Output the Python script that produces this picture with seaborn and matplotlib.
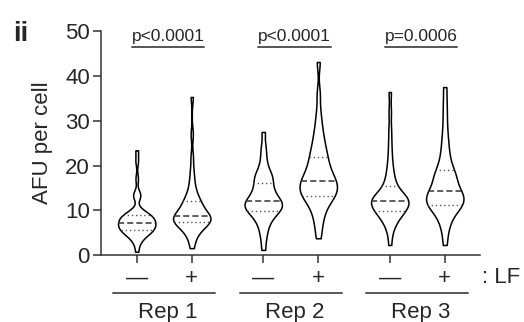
import seaborn as sns
import pandas as pd
import matplotlib.pyplot as plt
import numpy as np

# categories and labels
reps = ["Rep 1", "Rep 2", "Rep 3"]
lf_labels = ["—", "+"]
p_values = ["p<0.0001", "p<0.0001", "p=0.0006"]

rep1_minus = [0.8, 2.6, 3.4, 4.0, 4.4, 4.7, 5.0, 5.2, 5.4, 5.5,
              5.6, 5.8, 6.0, 6.2, 6.4, 6.6, 6.8, 6.9, 7.1, 7.2,
              7.3, 7.5, 7.7, 7.9, 8.1, 8.3, 8.5, 8.7, 8.8, 8.9,
              9.1, 9.4, 9.7, 10.1, 13.1, 13.4, 13.7, 17.1, 21.0, 23.4]
rep1_plus = [1.6, 3.2, 4.3, 5.0, 5.6, 6.0, 6.4, 6.7, 7.0, 7.2,
             7.4, 7.6, 7.8, 7.9, 8.0, 8.1, 8.2, 8.4, 8.6, 8.8,
             8.9, 9.1, 9.4, 9.7, 10.1, 10.5, 10.9, 11.3, 11.7, 11.9,
             12.3, 12.9, 13.6, 14.5, 15.6, 17.2, 19.0, 22.0, 27.0, 35.3]
rep2_minus = [1.2, 3.5, 5.0, 6.2, 7.1, 7.8, 8.4, 8.9, 9.3, 9.6,
              9.9, 10.2, 10.5, 10.7, 10.9, 11.1, 11.3, 11.6, 11.9, 12.1,
              12.3, 12.6, 12.9, 13.3, 13.7, 14.1, 14.6, 15.1, 15.7, 16.1,
              16.6, 17.2, 17.8, 18.2, 18.6, 19.8, 21.0, 22.7, 24.5, 27.5]
rep2_plus = [3.8, 6.0, 7.8, 9.0, 10.1, 11.0, 11.8, 12.4, 12.9, 13.1,
             13.4, 13.8, 14.2, 14.5, 14.8, 15.1, 15.5, 15.9, 16.3, 16.5,
             16.7, 17.1, 17.6, 18.1, 18.6, 19.2, 19.8, 20.4, 21.1, 21.8,
             22.5, 23.3, 24.2, 25.2, 26.4, 27.8, 29.5, 32.0, 36.0, 43.1]
rep3_minus = [2.3, 5.0, 6.4, 7.2, 7.9, 8.5, 9.0, 9.3, 9.6, 9.8,
              10.0, 10.3, 10.6, 10.9, 11.2, 11.5, 11.7, 11.9, 12.0, 12.1,
              12.3, 12.5, 12.7, 12.9, 13.1, 13.3, 13.6, 14.0, 14.6, 15.3,
              16.0, 16.8, 17.8, 19.0, 20.5, 22.5, 25.0, 28.0, 32.0, 36.4]
rep3_plus = [2.3, 5.0, 6.6, 7.8, 8.7, 9.4, 10.0, 10.5, 10.9, 11.1,
             11.4, 11.7, 12.0, 12.2, 12.4, 12.7, 13.0, 13.4, 13.8, 14.2,
             14.4, 14.6, 14.9, 15.4, 16.7, 17.1, 17.4, 17.6, 17.9, 18.9,
             19.5, 20.4, 21.5, 22.8, 24.3, 26.0, 28.2, 31.0, 34.0, 37.5]

series = [[rep1_minus, rep1_plus], [rep2_minus, rep2_plus], [rep3_minus, rep3_plus]]

# layout: each rep is a pair, pairs separated by a wider gap
GROUP_STEP = 2.3
rows = []
for g, pair in enumerate(series):
    for j, vals in enumerate(pair):
        for v in vals:
            rows.append({"rep": reps[g], "lf": lf_labels[j], "pos": g * GROUP_STEP + j, "afu": v})
df = pd.DataFrame(rows)
positions = sorted(df["pos"].unique())

sns.set_style("ticks")
plt.rcParams["font.family"] = ["Liberation Sans", "DejaVu Sans"]

fig = plt.figure(figsize=(5.24, 3.22), dpi=100)
ax = fig.add_axes([0.1927, 0.2071, 0.7233, 0.6966])

sns.violinplot(data=df, x="pos", y="afu", native_scale=True, cut=0, inner="quart",
               density_norm="width", width=0.68, bw_adjust=0.5,
               color="white", linecolor="black", linewidth=1.1, ax=ax)

# GraphPad style: dashed median, fine grey dotted quartiles
for i, line in enumerate(ax.lines):
    if i % 3 == 1:
        line.set_color("#333333")
        line.set_linewidth(1.1)
        line.set_dashes((4, 2))
    else:
        line.set_color("#555555")
        line.set_linewidth(1.0)
        line.set_dashes((1, 2))

ax.set_xlim(-0.65, 6.24)
ax.set_ylim(0, 50)
ax.set_yticks([0, 10, 20, 30, 40, 50])
ax.tick_params(axis="y", labelsize=16, length=6, width=1.1, pad=2, color="#333333")
ax.set_xticks(positions)
ax.set_xticklabels(lf_labels * 3, fontsize=16)
ax.tick_params(axis="x", length=6, width=1.1, pad=3, color="#333333")
ax.set_xlabel("")
ax.set_ylabel("AFU per cell", fontsize=16)
ax.yaxis.set_label_coords(-0.127, 0.5)
for s in ["left", "bottom"]:
    ax.spines[s].set_linewidth(1.1)
    ax.spines[s].set_color("#333333")
sns.despine(ax=ax)

# rep group lines and labels under the axis
trans = ax.get_xaxis_transform()
for g, rep in enumerate(reps):
    c = g * GROUP_STEP + 0.5
    ax.plot([c - 0.93, c + 0.93], [-0.167, -0.167], transform=trans, color="#555555",
            lw=1.4, clip_on=False)
    ax.text(c + 0.07, -0.255, rep, transform=trans, ha="center", va="center", fontsize=16)
    # p-value bracket
    ax.plot([c - 0.59, c + 0.73], [46.5, 46.5], color="#555555", lw=1.4)
    ax.text(c + 0.07, 47.2, p_values[g], ha="center", va="bottom", fontsize=12.5)

ax.text(6.28, -0.101, ": LF", transform=trans, ha="left", va="center", fontsize=16)
fig.text(0.025, 0.895, "ii", fontsize=20, fontweight="bold", ha="left", va="center")

fig.savefig("out.png", dpi=100)
